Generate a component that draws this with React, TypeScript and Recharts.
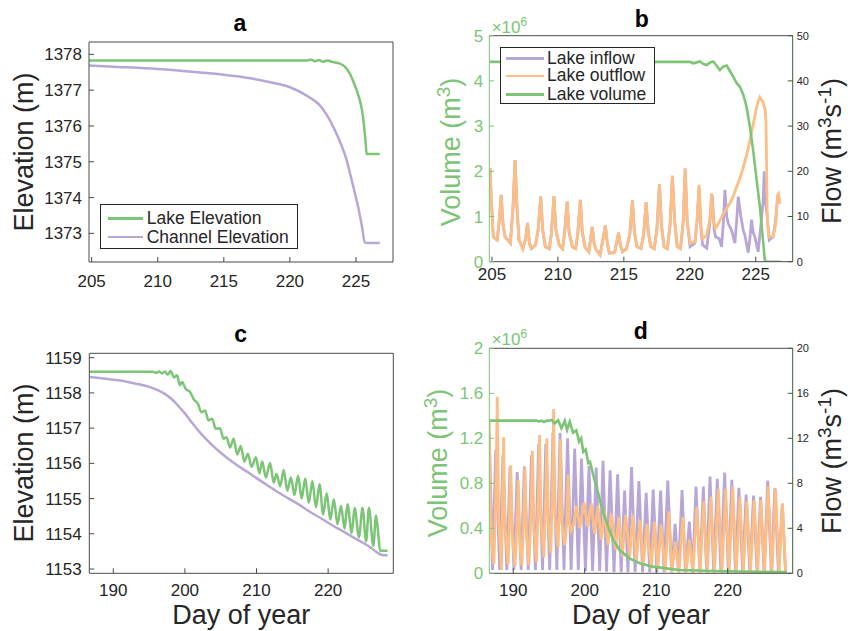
import React from 'react';
import { LineChart, Line, XAxis, YAxis, Legend } from 'recharts';

const FONT = '"Liberation Sans", Arial, Helvetica, sans-serif';
const INK = '#262626';
const BOX = '#4a4a4a';
const GREEN = '#7cc576';
const PURPLE = '#b8a7d6';
const ORANGE = '#fdbe85';
const RIGHT_AXIS = '#3f5b3f';

// tick values
const dayTicksAB = [205, 210, 215, 220, 225];
const dayTicksCD = [190, 200, 210, 220];
const elevTicksA = [1373, 1374, 1375, 1376, 1377, 1378];
const elevTicksC = [1153, 1154, 1155, 1156, 1157, 1158, 1159];
const volTicksB = [0, 1, 2, 3, 4, 5];
const flowTicksB = [0, 10, 20, 30, 40, 50];
const volTicksD = [0, 0.4, 0.8, 1.2, 1.6, 2];
const flowTicksD = [0, 4, 8, 12, 16, 20];

// panel a: [day, elevation m]
const aLakeElevation = [
  [204.8, 1377.83], [210, 1377.83], [215, 1377.83], [220, 1377.83], [221.3, 1377.83],
  [221.6, 1377.85], [221.9, 1377.81], [222.2, 1377.84], [222.5, 1377.79], [222.8, 1377.83],
  [223.2, 1377.79], [223.78, 1377.74], [224.0, 1377.7], [224.29, 1377.6], [224.55, 1377.45],
  [224.79, 1377.25], [225.05, 1377.0], [225.3, 1376.7], [225.45, 1376.45], [225.55, 1376.2],
  [225.65, 1375.85], [225.73, 1375.55], [225.8, 1375.22], [226.8, 1375.22],
];
const aChannelElevation = [
  [204.8, 1377.69], [207, 1377.65], [210, 1377.59], [213, 1377.5], [215, 1377.43],
  [217, 1377.33], [218.5, 1377.22], [220, 1377.08], [221.2, 1376.86], [222.3, 1376.56],
  [222.8, 1376.3], [223.3, 1375.96], [223.8, 1375.55], [224.3, 1375.04], [224.6, 1374.6],
  [224.9, 1374.15], [225.17, 1373.72], [225.45, 1373.2], [225.67, 1372.74], [226.8, 1372.73],
];

// panel b: flow [day, m3/s] (inflow = outflow until ~219.7), volume [day, 1e6 m3]
const bFlowShared = [
  [204.85, 20.7], [204.95, 14], [205.1, 5.5], [205.4, 4.8], [205.55, 9], [205.7, 14.8],
  [205.85, 8], [206.0, 5.5], [206.4, 4.1], [206.6, 12], [206.75, 22.5], [206.9, 12],
  [207.05, 4.8], [207.35, 2.9], [207.55, 5], [207.7, 8.6], [207.85, 4], [208.0, 2.9],
  [208.3, 3.7], [208.5, 7], [208.7, 14.4], [208.85, 7], [209.05, 3.3], [209.35, 2.9],
  [209.5, 6], [209.7, 14.5], [209.85, 7], [210.1, 3.7], [210.35, 2.9], [210.5, 6],
  [210.7, 13.3], [210.85, 6.5], [211.1, 3.3], [211.35, 2.9], [211.5, 6], [211.7, 13.7],
  [211.85, 6.5], [212.05, 3.3], [212.35, 2.2], [212.6, 7.7], [212.75, 4], [212.9, 2.6],
  [213.2, 1.5], [213.6, 8.0], [213.75, 4], [213.9, 1.9], [214.3, 2.0], [214.6, 6.4],
  [214.75, 3.5], [214.9, 2.2], [215.2, 2.9], [215.45, 6], [215.65, 13.6], [215.8, 6.5],
  [216.0, 3.3], [216.3, 2.9], [216.5, 6], [216.69, 13.2], [216.85, 6.5], [217.05, 3.3],
  [217.3, 2.9], [217.5, 7], [217.7, 17.2], [217.85, 8], [218.05, 3.3], [218.3, 2.9],
  [218.5, 8], [218.68, 19.0], [218.85, 9], [219.05, 3.3], [219.3, 2.9], [219.5, 9],
  [219.65, 20.6],
];
const bInflowLate = [
  [219.8, 9], [220.02, 3.3], [220.39, 4.1], [220.55, 9], [220.7, 16.3], [220.85, 7],
  [220.97, 3.7], [221.28, 3.0], [221.5, 8], [221.7, 14.7], [221.85, 7], [221.95, 5.5],
  [222.23, 5.1], [222.41, 3.3], [222.55, 9], [222.66, 15.9], [222.8, 10], [222.91, 8.5],
  [223.16, 7.0], [223.42, 4.1], [223.55, 9], [223.67, 14.4], [223.87, 10.0], [224.05, 7],
  [224.17, 5.9], [224.43, 2.0], [224.55, 5], [224.68, 9.3], [224.8, 6.5], [224.93, 5.5],
  [225.18, 2.2], [225.43, 9.3], [225.55, 13], [225.64, 20.0], [225.75, 13], [225.87, 10.0],
  [226.02, 4.8], [226.32, 5.5], [226.5, 9], [226.65, 14.0], [226.72, 14.5], [226.82, 12.9],
];
const bOutflowLate = [
  [219.8, 9], [220.02, 4.1], [220.39, 4.4], [220.55, 9], [220.7, 17.0], [220.85, 8],
  [220.97, 5.1], [221.28, 5.9], [221.5, 9], [221.65, 15.1], [221.8, 9], [221.95, 7.4],
  [222.2, 8.6], [222.5, 10.4], [222.8, 11.8], [223.04, 12.9], [223.3, 14.5], [223.5, 16.2],
  [223.8, 18.5], [224.0, 20.3], [224.3, 23.5], [224.5, 26], [224.7, 28.8], [224.9, 31.8],
  [225.1, 34.6], [225.31, 36.4], [225.56, 35.3], [225.72, 33.5], [225.77, 31], [225.82, 21.8],
  [225.87, 10], [225.95, 6.5], [226.02, 5.5], [226.32, 5.6], [226.52, 8.5], [226.65, 14.7],
  [226.72, 15.0], [226.82, 12.9],
];
const bVolume = [
  [204.85, 4.42], [220.0, 4.42], [220.26, 4.39], [220.52, 4.41], [220.77, 4.43], [221.0, 4.38],
  [221.28, 4.35], [221.55, 4.41], [221.78, 4.43], [222.05, 4.33], [222.28, 4.24], [222.55, 4.32],
  [222.79, 4.34], [223.04, 4.22], [223.3, 4.09], [223.55, 3.95], [223.8, 3.87], [224.05, 3.7],
  [224.3, 3.43], [224.55, 3.0], [224.8, 2.47], [225.05, 1.85], [225.31, 1.22], [225.5, 0.62],
  [225.69, 0.04], [225.78, 0], [226.9, 0],
];

// panel c: [day, elevation m]
const cLakeElevation = [
  [186.65, 1158.6], [195.5, 1158.6], [196.0, 1158.57], [196.4, 1158.61], [196.8, 1158.55],
  [197.2, 1158.61], [197.6, 1158.52], [198.0, 1158.62], [198.5, 1158.44], [198.9, 1158.5],
  [199.3, 1158.22], [199.6, 1158.31], [200.1, 1158.12], [200.7, 1158.03], [201.3, 1157.8],
  [201.8, 1157.7], [202.3, 1157.45], [202.8, 1157.5], [203.3, 1157.22], [203.8, 1157.27],
  [204.3, 1156.98], [204.9, 1157.0], [205.4, 1156.7], [205.8, 1156.74], [206.3, 1156.45],
  [206.8, 1156.7], [207.3, 1156.25], [207.8, 1156.49], [208.3, 1156.05], [208.8, 1156.27],
  [209.3, 1155.9], [209.9, 1156.17], [210.4, 1155.72], [210.8, 1156.05], [211.3, 1155.6],
  [211.9, 1156.01], [212.4, 1155.45], [212.8, 1155.7], [213.3, 1155.35], [213.8, 1155.81],
  [214.3, 1155.22], [214.8, 1155.6], [215.3, 1155.1], [215.8, 1155.65], [216.3, 1155.0],
  [216.8, 1155.57], [217.3, 1154.88], [217.8, 1155.5], [218.3, 1154.75], [218.8, 1155.41],
  [219.3, 1154.55], [219.8, 1155.15], [220.3, 1154.4], [220.8, 1154.98], [221.3, 1154.27],
  [221.8, 1154.79], [222.3, 1154.14], [222.7, 1154.84], [223.3, 1154.02], [223.7, 1154.74],
  [224.3, 1153.9], [224.8, 1154.74], [225.3, 1153.78], [225.7, 1154.74], [226.3, 1153.66],
  [226.7, 1154.52], [227.0, 1154.0], [227.25, 1153.52], [228.3, 1153.52],
];
const cChannelElevation = [
  [186.65, 1158.45], [189, 1158.4], [191, 1158.35], [193, 1158.27], [195, 1158.17],
  [196.5, 1158.05], [197.5, 1157.93], [198.5, 1157.76], [199.3, 1157.58], [200, 1157.42],
  [201, 1157.15], [202, 1156.9], [203, 1156.68], [204, 1156.48], [205, 1156.3],
  [206, 1156.14], [207, 1155.99], [208, 1155.85], [209, 1155.72], [210, 1155.58],
  [211.5, 1155.38], [213, 1155.18], [214.5, 1155.0], [216, 1154.82], [217.5, 1154.62],
  [219, 1154.44], [220.5, 1154.25], [222, 1154.08], [223.5, 1153.9], [225, 1153.73],
  [226, 1153.6], [227, 1153.45], [227.5, 1153.4], [228.3, 1153.39],
];

// panel d: flow [day, m3/s], volume [day, 1e6 m3]
const dInflow = [
  [186.65, 12.5], [187.1, 0.3], [187.55, 11.0], [188.1, 0.3], [188.55, 10.5], [189.1, 0.3],
  [189.55, 9.5], [190.1, 0.3], [190.55, 9.0], [191.1, 0.3], [191.55, 9.5], [192.1, 0.3],
  [192.55, 10.5], [193.1, 0.3], [193.55, 11.5], [194.1, 0.3], [194.55, 11.5], [195.1, 0.3],
  [195.55, 12.5], [196.1, 0.3], [196.55, 12.5], [197.1, 0.3], [197.6, 12.0], [198.1, 0.3],
  [198.6, 11.1], [199.1, 0.3], [199.55, 10.2], [200.1, 0.2], [200.6, 9.55], [201.1, 0.2],
  [201.6, 9.4], [202.1, 0.2], [202.56, 10.0], [203.05, 0.15], [203.55, 9.15], [204.1, 0.1],
  [204.6, 8.8], [205.1, 0.1], [205.58, 7.35], [206.05, 0.1], [206.55, 9.45], [207.05, 0.1],
  [207.58, 8.2], [208.1, 0.1], [208.6, 7.15], [209.1, 0.1], [209.58, 7.45], [210.1, 0.1],
  [210.62, 7.35], [211.1, 0.1], [211.62, 8.25], [212.15, 0.1], [212.65, 4.4], [213.1, 0.1],
  [213.62, 7.4], [214.1, 0.1], [214.64, 4.6], [215.1, 0.1], [215.57, 7.7], [216.1, 0.1],
  [216.6, 7.7], [217.05, 0.1], [217.53, 8.6], [218.05, 0.1], [218.55, 8.4], [219.05, 0.1],
  [219.58, 8.95], [220.1, 0.1], [220.58, 8.3], [221.1, 0.1], [221.57, 7.6], [222.1, 0.1],
  [222.58, 7.0], [223.1, 0.1], [223.62, 6.9], [224.1, 0.1], [224.6, 6.8], [225.1, 0.1],
  [225.6, 8.25], [226.1, 0.1], [226.6, 7.55], [227.1, 0.1], [227.65, 6.2], [228.1, 0.1],
  [228.3, 0.1],
];
const dOutflow = [
  [186.65, 13.6], [186.8, 6], [187.0, 2.5], [187.3, 0.8], [187.62, 9], [187.76, 15.7],
  [187.95, 5], [188.35, 0.3], [188.52, 7], [188.65, 12.1], [188.85, 4], [189.3, 0.8],
  [189.5, 6], [189.65, 9.6], [189.85, 3.5], [190.25, 0.6], [190.55, 5], [190.7, 8.3],
  [190.9, 3], [191.2, 0.7], [191.48, 5], [191.63, 9.4], [191.85, 3.5], [192.2, 0.7],
  [192.52, 6], [192.68, 10.9], [192.9, 4], [193.26, 1.0], [193.52, 7], [193.68, 12.3],
  [193.9, 4.5], [194.28, 1.4], [194.55, 7], [194.7, 12.0], [194.9, 4.5], [195.26, 1.8],
  [195.5, 8], [195.65, 14.6], [195.85, 5], [196.28, 2.3], [196.45, 6], [196.6, 11.9],
  [196.8, 4.5], [197.2, 2.5], [197.5, 4.5], [197.67, 8.8], [197.85, 4.5], [198.1, 3.8],
  [198.45, 4.3], [198.85, 6.0], [199.3, 4.0], [199.9, 6.3], [200.4, 4.2], [200.93, 6.2],
  [201.4, 3.5], [201.85, 6.0], [202.3, 3.0], [202.79, 5.5], [203.25, 2.5], [203.72, 5.3],
  [204.3, 2.1], [204.79, 5.0], [205.25, 1.5], [205.72, 5.2], [206.3, 1.5], [206.74, 5.2],
  [207.2, 1.0], [207.76, 4.7], [208.2, 0.7], [208.69, 4.4], [209.3, 0.4], [209.76, 4.6],
  [210.2, 0.3], [210.69, 4.3], [211.25, 0.15], [211.76, 5.5], [212.2, 0.1], [212.69, 2.8],
  [213.2, 0.1], [213.72, 5.0], [214.2, 0.1], [214.65, 3.0], [215.15, 0.05], [215.67, 5.9],
  [216.15, 0.05], [216.64, 6.4], [217.15, 0.05], [217.66, 6.8], [218.15, 0.05], [218.69, 7.5],
  [219.2, 0.05], [219.72, 7.5], [220.2, 0.05], [220.72, 7.7], [221.2, 0.05], [221.72, 6.8],
  [222.2, 0.05], [222.69, 6.4], [223.2, 0.05], [223.71, 6.5], [224.2, 0.05], [224.66, 6.5],
  [225.15, 0.05], [225.66, 7.7], [226.2, 0.05], [226.7, 7.5], [227.2, 0.05], [227.66, 6.2],
  [228.1, 0.05], [228.3, 0.05],
];
const dVolume = [
  [186.65, 1.357], [193.3, 1.357], [193.6, 1.348], [193.9, 1.357], [194.3, 1.345],
  [194.7, 1.357], [195.0, 1.357], [195.35, 1.363], [195.81, 1.333], [196.28, 1.36],
  [196.74, 1.29], [197.21, 1.357], [197.53, 1.274], [197.9, 1.348], [198.37, 1.25],
  [198.83, 1.27], [199.21, 1.17], [199.5, 1.2], [199.8, 1.08], [200.14, 1.1], [200.5, 0.98],
  [200.75, 0.99], [201.16, 0.88], [201.5, 0.8], [201.86, 0.72], [202.2, 0.63], [202.55, 0.55],
  [203.25, 0.415], [203.95, 0.3], [204.88, 0.207], [206.27, 0.133], [207.67, 0.089],
  [209.53, 0.059], [211.39, 0.044], [213.25, 0.029], [217.9, 0.02], [222, 0.016], [228.3, 0.012],
];

const pts = (arr: number[][]) => arr.map(([x, y]) => ({ x, y }));

type Pos = { x: number; y: number; w: number; h: number };
type Plot = { l: number; t: number; r: number; b: number };

// margins so that the plot area lands on the given page box
const marginsFor = (pos: Pos, plot: Plot, leftW: number, rightW: number) => ({
  top: plot.t - pos.y - 10,
  left: plot.l - pos.x - leftW,
  right: pos.x + pos.w - plot.r - rightW,
  bottom: pos.y + pos.h - plot.b - 30,
});

type LegendItem = { label: string; color: string };

function LegendBox({ items, w, h, rows, x0, x1, tx }: {
  items: LegendItem[]; w: number; h: number; rows: number[]; x0: number; x1: number; tx: number;
}) {
  return (
    <div style={{ position: 'relative', width: w, height: h, border: `1px solid ${INK}`, background: '#fff', boxSizing: 'border-box', fontFamily: FONT }}>
      {items.map((it, i) => (
        <React.Fragment key={it.label}>
          <div style={{ position: 'absolute', left: x0, width: x1 - x0, top: rows[i] - 1.3, height: 2.6, background: it.color }} />
          <div style={{ position: 'absolute', left: tx, top: rows[i] - 8.5, fontSize: 17.5, lineHeight: '17px', color: INK, whiteSpace: 'nowrap' }}>
            {it.label}
          </div>
        </React.Fragment>
      ))}
    </div>
  );
}

function ElevationPanel({ pos, plot, xDomain, xTicks, xGap, yDomain, yTicks, yGap, lake, channel, legend }: any) {
  const m = marginsFor(pos, plot, 60, 10);
  return (
    <div style={{ position: 'absolute', left: pos.x, top: pos.y }}>
      <LineChart width={pos.w} height={pos.h} margin={m}>
        <XAxis xAxisId="bottom" dataKey="x" type="number" domain={xDomain} allowDataOverflow ticks={xTicks} interval={0}
          height={30} tickSize={-5} tickMargin={xGap} stroke={BOX} tick={{ fontSize: 17, fill: INK }} />
        <XAxis xAxisId="top" orientation="top" dataKey="x" type="number" domain={xDomain} allowDataOverflow ticks={xTicks}
          interval={0} height={10} tickSize={-5} tick={false} stroke={BOX} />
        <YAxis yAxisId="left" type="number" domain={yDomain} allowDataOverflow ticks={yTicks} interval={0}
          width={60} tickSize={-5} tickMargin={yGap} stroke={BOX} tick={{ fontSize: 17, fill: INK }} />
        <YAxis yAxisId="right" orientation="right" type="number" domain={yDomain} allowDataOverflow ticks={yTicks}
          interval={0} width={10} tickSize={-5} tick={false} stroke={BOX} />
        <Line data={pts(channel)} xAxisId="top" yAxisId="right" dataKey="y" type="monotone" stroke={PURPLE}
          strokeWidth={2.5} dot={false} isAnimationActive={false} />
        <Line data={pts(lake)} xAxisId="bottom" yAxisId="left" dataKey="y" type="monotone" stroke={GREEN}
          strokeWidth={2.5} dot={false} isAnimationActive={false} />
        {legend && (
          <Legend layout="vertical" align="center" verticalAlign="middle"
            wrapperStyle={{ left: legend.left, top: legend.top, width: 'auto', height: 'auto' }}
            content={() => <LegendBox {...legend.box} />} />
        )}
      </LineChart>
    </div>
  );
}

function FlowPanel({ pos, plot, xDomain, xTicks, xGap, volDomain, volTicks, flowDomain, flowTicks,
  inflow, outflow, volume, legend }: any) {
  const m = marginsFor(pos, plot, 60, 50);
  return (
    <div style={{ position: 'absolute', left: pos.x, top: pos.y }}>
      <LineChart width={pos.w} height={pos.h} margin={m}>
        <XAxis xAxisId="bottom" dataKey="x" type="number" domain={xDomain} allowDataOverflow ticks={xTicks} interval={0}
          height={30} tickSize={-5} tickMargin={xGap} stroke={BOX} tick={{ fontSize: 17, fill: INK }} />
        <XAxis xAxisId="top" orientation="top" dataKey="x" type="number" domain={xDomain} allowDataOverflow ticks={xTicks}
          interval={0} height={10} tickSize={-5} tick={false} stroke={BOX} />
        <YAxis yAxisId="vol" type="number" domain={volDomain} allowDataOverflow ticks={volTicks} interval={0}
          width={60} tickSize={-5} tickMargin={11} stroke={GREEN} tick={{ fontSize: 17, fill: GREEN }} />
        <YAxis yAxisId="flow" orientation="right" type="number" domain={flowDomain} allowDataOverflow ticks={flowTicks}
          interval={0} width={50} tickSize={-5} tickMargin={9} stroke={RIGHT_AXIS} tick={{ fontSize: 11, fill: INK }} />
        <Line data={pts(inflow)} xAxisId="top" yAxisId="flow" dataKey="y" type="linear" stroke={PURPLE}
          strokeWidth={2.8} dot={false} isAnimationActive={false} />
        <Line data={pts(outflow)} xAxisId="top" yAxisId="flow" dataKey="y" type="linear" stroke={ORANGE}
          strokeWidth={2.8} dot={false} isAnimationActive={false} />
        <Line data={pts(volume)} xAxisId="bottom" yAxisId="vol" dataKey="y" type="linear" stroke={GREEN}
          strokeWidth={2.6} dot={false} isAnimationActive={false} />
        {legend && (
          <Legend layout="vertical" align="center" verticalAlign="middle"
            wrapperStyle={{ left: legend.left, top: legend.top, width: 'auto', height: 'auto' }}
            content={() => <LegendBox {...legend.box} />} />
        )}
      </LineChart>
    </div>
  );
}

const Sup = ({ children }: { children: React.ReactNode }) => (
  <tspan dy={-10} fontSize={19}>{children}</tspan>
);

export default function App() {
  return (
    <div style={{ position: 'absolute', left: 0, top: 0, width: 850, height: 631, background: '#fff', fontFamily: FONT }}>
      <ElevationPanel
        pos={{ x: 0, y: 0, w: 425, h: 310 }}
        plot={{ l: 89, t: 42, r: 393, b: 262 }}
        xDomain={[204.8, 227.8]} xTicks={dayTicksAB} xGap={18}
        yDomain={[1372.2, 1378.345]} yTicks={elevTicksA} yGap={12}
        lake={aLakeElevation} channel={aChannelElevation}
        legend={{
          left: 100, top: 204,
          box: {
            items: [{ label: 'Lake Elevation', color: GREEN }, { label: 'Channel Elevation', color: PURPLE }],
            w: 198, h: 45, rows: [13.3, 32], x0: 6.7, x1: 41.7, tx: 45.7,
          },
        }}
      />
      <FlowPanel
        pos={{ x: 425, y: 0, w: 425, h: 310 }}
        plot={{ l: 489.3, t: 35.7, r: 792.7, b: 261.7 }}
        xDomain={[204.8, 227.8]} xTicks={dayTicksAB} xGap={11}
        volDomain={[0, 5]} volTicks={volTicksB} flowDomain={[0, 50]} flowTicks={flowTicksB}
        inflow={[...bFlowShared, ...bInflowLate]} outflow={[...bFlowShared, ...bOutflowLate]} volume={bVolume}
        legend={{
          left: 75, top: 46.7,
          box: {
            items: [
              { label: 'Lake inflow', color: PURPLE },
              { label: 'Lake outflow', color: ORANGE },
              { label: 'Lake volume', color: GREEN },
            ],
            w: 155, h: 57.3, rows: [10.6, 28.3, 46.6], x0: 5, x1: 43.3, tx: 46,
          },
        }}
      />
      <ElevationPanel
        pos={{ x: 0, y: 310, w: 425, h: 321 }}
        plot={{ l: 89.3, t: 353.3, r: 393.3, b: 573.3 }}
        xDomain={[186.65, 229.1]} xTicks={dayTicksCD} xGap={16}
        yDomain={[1152.878, 1159.125]} yTicks={elevTicksC} yGap={12.6}
        lake={cLakeElevation} channel={cChannelElevation}
      />
      <FlowPanel
        pos={{ x: 425, y: 310, w: 425, h: 321 }}
        plot={{ l: 489.3, t: 348.3, r: 792.7, b: 573.3 }}
        xDomain={[186.65, 229.1]} xTicks={dayTicksCD} xGap={16}
        volDomain={[0, 2]} volTicks={volTicksD} flowDomain={[0, 20]} flowTicks={flowTicksD}
        inflow={dInflow} outflow={dOutflow} volume={dVolume}
      />
      <svg width={850} height={631} style={{ position: 'absolute', left: 0, top: 0, pointerEvents: 'none' }} fontFamily={FONT}>
        <g fontWeight="bold" fontSize={23} fill="#000" textAnchor="middle">
          <text x={240} y={31}>a</text>
          <text x={641.7} y={27}>b</text>
          <text x={240.7} y={341.7}>c</text>
          <text x={640.7} y={339}>d</text>
        </g>
        <g fontSize={27} fill={INK} textAnchor="middle">
          <text transform="translate(33,152) rotate(-90)">Elevation (m)</text>
          <text transform="translate(33,463) rotate(-90)">Elevation (m)</text>
          <text x={241.3} y={624}>Day of year</text>
          <text x={641} y={624}>Day of year</text>
          <text transform="translate(460,152) rotate(-90)" fill={GREEN}>
            Volume (m<Sup>3</Sup><tspan dy={10}>)</tspan>
          </text>
          <text transform="translate(447,463) rotate(-90)" fill={GREEN}>
            Volume (m<Sup>3</Sup><tspan dy={10}>)</tspan>
          </text>
          <text transform="translate(841,151) rotate(-90)">
            Flow (m<Sup>3</Sup><tspan dy={10}>s</tspan><Sup>-1</Sup><tspan dy={10}>)</tspan>
          </text>
          <text transform="translate(841,461) rotate(-90)">
            Flow (m<Sup>3</Sup><tspan dy={10}>s</tspan><Sup>-1</Sup><tspan dy={10}>)</tspan>
          </text>
        </g>
        <g fontSize={17} fill={GREEN}>
          <text x={491.7} y={33.3}>×10<tspan dy={-7} fontSize={12}>6</tspan></text>
          <text x={491.7} y={345}>×10<tspan dy={-7} fontSize={12}>6</tspan></text>
        </g>
      </svg>
    </div>
  );
}
